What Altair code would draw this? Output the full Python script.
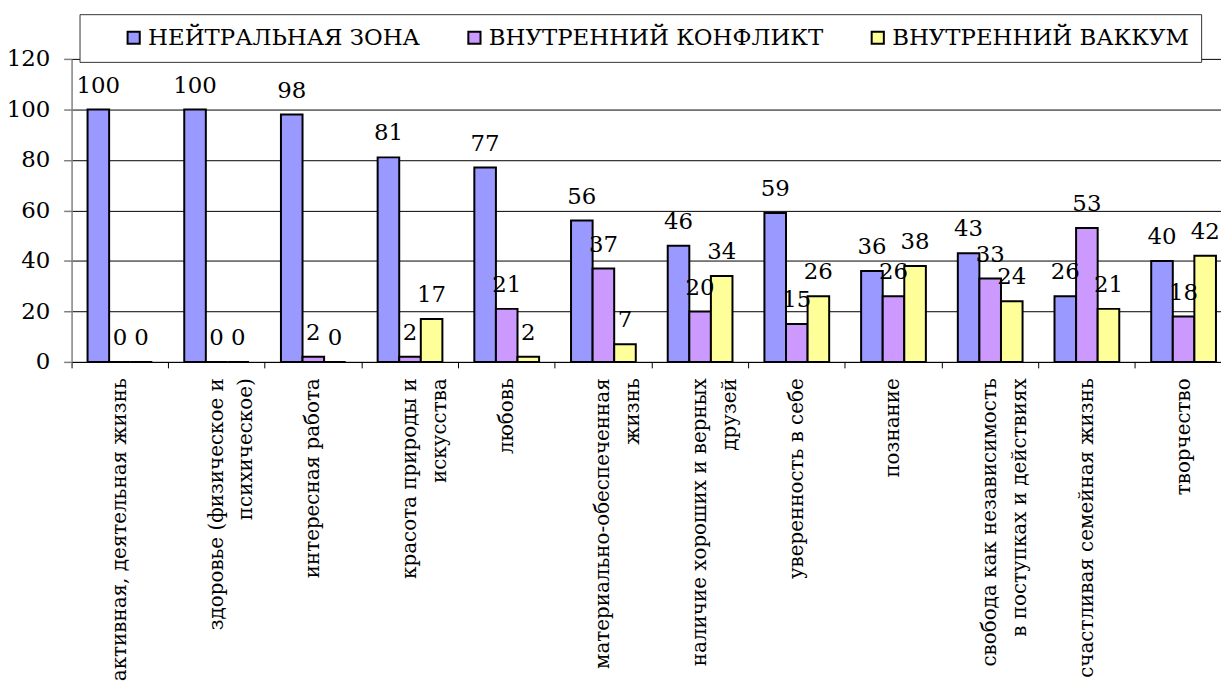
import altair as alt
import pandas as pd

FONT = "DejaVu Serif"

label_lines = [
    ["активная, деятельная жизнь"],
    ["здоровье (физическое и", "психическое)"],
    ["интересная работа"],
    ["красота природы и", "искусства"],
    ["любовь"],
    ["материально-обеспеченная", "жизнь"],
    ["наличие хороших и верных", "друзей"],
    ["уверенность в себе"],
    ["познание"],
    ["свобода как независимость", "в поступках и действиях"],
    ["счастливая семейная жизнь"],
    ["творчество"],
]
series = ["НЕЙТРАЛЬНАЯ ЗОНА", "ВНУТРЕННИЙ КОНФЛИКТ", "ВНУТРЕННИЙ ВАККУМ"]
neutral = [100, 100, 98, 81, 77, 56, 46, 59, 36, 43, 26, 40]
conflict = [0, 0, 2, 2, 21, 37, 20, 15, 26, 33, 53, 18]
vacuum = [0, 0, 0, 17, 2, 7, 34, 26, 38, 24, 21, 42]
colors = ["#9999FF", "#CC99FF", "#FFFF99"]
y_ticks = [0, 20, 40, 60, 80, 100, 120]


def make_label(lines):
    first = lines[0]
    out = [first]
    for ln in lines[1:]:
        out.append(ln + "\u00a0" * max(0, len(first) - len(ln)))
    return "|".join(out)


labels = [make_label(l) for l in label_lines]

rows = []
for i, lab in enumerate(labels):
    for s, vals in zip(series, [neutral, conflict, vacuum]):
        rows.append({"cat": lab, "series": s, "value": vals[i]})
df = pd.DataFrame(rows)

x_scale = alt.Scale(type="band", paddingInner=0, paddingOuter=0, range=[0, 1168])
xoff = alt.XOffset("series:N", sort=series,
                   scale=alt.Scale(paddingInner=0, paddingOuter=0.74))
y_enc = alt.Y(
    "value:Q", title=None,
    scale=alt.Scale(domain=[0, 120], nice=False),
    axis=alt.Axis(values=y_ticks, grid=True, gridColor="#000000", gridWidth=1,
                  domainColor="#808080", domainWidth=1.5, tickColor="#808080",
                  tickSize=8, tickWidth=1.5, labelPadding=14, labelFont=FONT,
                  labelFontSize=23, labelColor="black"),
)

# extend the legend frame to the right like the original box
legend_label_expr = (
    "datum.value == '" + series[-1] + "' ? datum.label + '\u00a0\u00a0\u00a0\u00a0' : datum.label"
)

bars = alt.Chart(df).mark_bar(stroke="black", strokeWidth=2).encode(
    x=alt.X("cat:N", sort=labels, title=None, scale=x_scale,
            axis=alt.Axis(labels=False, ticks=True, tickSize=6, tickColor="black",
                          tickWidth=1, bandPosition=0, domain=True,
                          domainColor="black", domainWidth=1, grid=False,
                          orient="bottom")),
    xOffset=xoff,
    y=y_enc,
    color=alt.Color(
        "series:N", sort=series,
        scale=alt.Scale(domain=series, range=colors),
        legend=alt.Legend(
            title=None, orient="none", legendX=8, legendY=-45,
            direction="horizontal", fillColor="white", strokeColor="#333333",
            padding=12, symbolType="square", symbolSize=150,
            symbolStrokeColor="black", symbolStrokeWidth=2, symbolOffset=31,
            labelOffset=3, columnPadding=12, labelFont=FONT, labelFontSize=23,
            labelColor="black", labelLimit=1000, labelExpr=legend_label_expr,
        ),
    ),
)

texts = alt.Chart(df).mark_text(
    font=FONT, fontSize=23, baseline="alphabetic", dy=-17, color="black"
).encode(
    x=alt.X("cat:N", sort=labels, title=None,
            axis=alt.Axis(labels=True, ticks=False, tickSize=0, domain=False,
                          grid=False, orient="bottom", labelAngle=-90,
                          labelAlign="right", labelBaseline="middle",
                          labelPadding=16, labelFont=FONT, labelFontSize=20,
                          labelColor="black", labelLimit=1000,
                          labelLineHeight=30, labelOverlap=False,
                          labelExpr="split(datum.label, '|')")),
    xOffset=xoff,
    y=y_enc,
    text=alt.Text("value:Q"),
)

chart = alt.layer(bars, texts).resolve_axis(x="independent").properties(
    width=1157, height=305,
    padding={"left": 64, "top": 49, "right": 0, "bottom": 322},
    autosize=alt.AutoSizeParams(type="none"),
    background="white",
).configure_view(stroke=None)

chart.save("out.html", embed_options={"renderer": "svg", "actions": False})
